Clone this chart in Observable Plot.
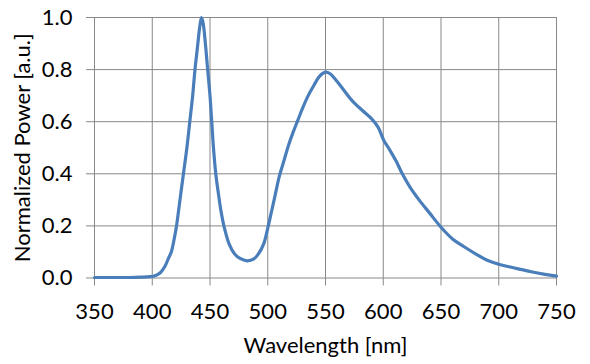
<!DOCTYPE html>
<html><head><meta charset="utf-8">
<script src="https://cdn.jsdelivr.net/npm/d3@7"></script>
<script src="https://cdn.jsdelivr.net/npm/@observablehq/plot@0.6"></script>
<style>html,body{margin:0;padding:0;background:#fff}</style>
</head><body><div id="chart"></div>
<script>
const wavelength = [350,360,370,380,390,398,403,407,411,414,416.5,419,421,424,427,430,432.5,435,437,439,441,442.6,444,446,448,450,451.5,453,455,457.4,459.4,462.3,466.6,471.2,476,482,488,492,496.4,500.2,503.5,506.5,510,514,518,522,526,530,535,540,545,550,554,559,564,573,582,590,595.5,600.5,605,611,616.5,623,631,640,650,660,670,681,690,700,710,720,728,740,750];
const power = [0.002,0.002,0.002,0.002,0.003,0.005,0.01,0.02,0.045,0.075,0.1,0.15,0.2,0.3,0.4,0.5,0.6,0.7,0.8,0.88,0.96,1.0,0.98,0.9,0.8,0.7,0.6,0.5,0.4,0.32,0.26,0.195,0.13,0.093,0.075,0.066,0.073,0.093,0.13,0.195,0.26,0.32,0.39,0.45,0.51,0.56,0.605,0.65,0.7,0.74,0.775,0.79,0.784,0.76,0.732,0.681,0.643,0.611,0.579,0.528,0.496,0.45,0.4,0.35,0.3,0.25,0.195,0.15,0.12,0.09,0.068,0.053,0.042,0.032,0.024,0.014,0.007];
const xTicks = [350,400,450,500,550,600,650,700,750];
const yTicks = [0,0.2,0.4,0.6,0.8,1.0];
const xTitle = "Wavelength [nm]";
const yTitle = "Normalized Power [a.u.]";

const data = wavelength.map((w, i) => ({w, p: power[i]}));

const chart = Plot.plot({
  width: 590, height: 364,
  marginLeft: 94, marginRight: 34, marginTop: 17, marginBottom: 86.5,
  style: {fontFamily: "Lato, sans-serif", fontSize: "22px", color: "#000", background: "#fff"},
  x: {domain: [350, 750]},
  y: {domain: [0, 1]},
  marks: [
    Plot.gridX(xTicks, {stroke: "#888", strokeOpacity: 1, strokeWidth: 1}),
    Plot.gridY(yTicks, {stroke: "#888", strokeOpacity: 1, strokeWidth: 1}),
    Plot.axisX({ticks: xTicks, tickSize: 8, tickPadding: 17, stroke: "#888", fill: "#000", fontSize: 22, label: null, tickFormat: d => String(d)}),
    Plot.axisY({ticks: yTicks, tickSize: 8, tickPadding: 14, stroke: "#888", fill: "#000", fontSize: 22, label: null, tickFormat: d => d.toFixed(1)}),
    Plot.line(data, {x: "w", y: "p", stroke: "#4A7EBB", strokeWidth: 3.2, curve: "catmull-rom"}),
    Plot.text([xTitle], {frameAnchor: "bottom", dy: 67.5, textAnchor: "middle", lineAnchor: "middle", fontSize: 22, fill: "#000", text: d => d}),
    Plot.text([yTitle], {frameAnchor: "left", dx: -72, rotate: -90, textAnchor: "middle", lineAnchor: "middle", fontSize: 22, fill: "#000", text: d => d})
  ]
});
document.getElementById("chart").append(chart);
</script>
</body></html>
